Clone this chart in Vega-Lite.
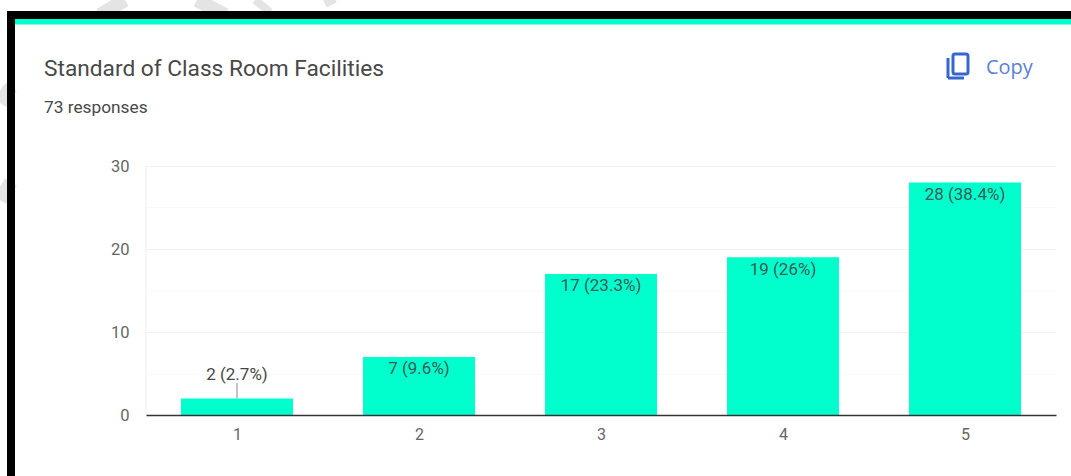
{
"$schema":"https://vega.github.io/schema/vega-lite/v6.json",
"width":910,"height":249,
"autosize":{"type":"none"},
"padding":{"left":146,"top":166,"right":15,"bottom":61},
"background":"#ffffff",
"view":{"stroke":null},
"title":{"text":"Standard of Class Room Facilities","subtitle":"73 responses","anchor":"start","frame":"group","dx":-102,"offset":-123,"font":"Roboto","fontSize":22.7,"fontWeight":"normal","color":"#484848","subtitleFont":"Roboto","subtitleFontSize":17.3,"subtitleColor":"#484848","subtitlePadding":18},
"datasets":{
"responses":[
{"option":1,"count":2,"label":"2 (2.7%)"},
{"option":2,"count":7,"label":"7 (9.6%)"},
{"option":3,"count":17,"label":"17 (23.3%)"},
{"option":4,"count":19,"label":"19 (26%)"},
{"option":5,"count":28,"label":"28 (38.4%)"}
]},
"layer":[
{"data":{"values":[
{"a":0.3846,"b":0.2473,"c":50,"d":48.19},
{"a":0.7802,"b":0.9341,"c":50,"d":48.19},
{"a":-0.3022,"b":-0.2418,"c":37.59,"d":39.52},
{"a":-0.3022,"b":-0.2418,"c":25.9,"d":28.07}
]},
"mark":{"type":"rule","color":"#e4e4e4","strokeWidth":14},
"encoding":{
"x":{"field":"a","type":"quantitative","title":null,"scale":{"domain":[0.5,5.5],"nice":false,"zero":false,"padding":0},"axis":{"values":[1,2,3,4,5],"grid":false,"ticks":false,"title":null,"domain":true,"domainColor":"#333333","domainWidth":1.5,"labelFont":"Roboto","labelFontSize":16,"labelColor":"#666666","labelPadding":11,"zindex":1,"labelAngle":0,"format":"d"}},
"x2":{"field":"b"},
"y":{"field":"c","type":"quantitative","title":null,"scale":{"domain":[0,30],"nice":false},"axis":{"values":[0,5,10,15,20,25,30],"labelExpr":"datum.value % 10 === 0 ? datum.label : ''","grid":true,"gridColor":{"condition":{"test":"datum.value % 10 === 0","value":"#f1f1f1"},"value":"#f8f8f8"},"ticks":false,"domain":false,"title":null,"labelFont":"Roboto","labelFontSize":16.5,"labelColor":"#666666","labelPadding":17}},
"y2":{"field":"d"}
}},
{"data":{"values":[{"a":1.0989,"b":1.1813,"c":50,"d":48.55},{"a":1.4835,"b":1.5385,"c":49.52,"d":50.12}]},
"mark":{"type":"rule","color":"#e4e4e4","strokeWidth":8},
"encoding":{"x":{"field":"a","type":"quantitative","title":null},"x2":{"field":"b"},"y":{"field":"c","type":"quantitative","title":null},"y2":{"field":"d"}}},
{"data":{"values":[
{"part":"frame","a":-0.2637,"b":5.6,"c":48.67,"d":47.71},
{"part":"frame","a":-0.2637,"b":-0.2198,"c":48.67,"d":-8},
{"part":"strip","a":-0.2198,"b":5.6,"c":47.71,"d":47.05}
]},
"mark":{"type":"rect"},
"encoding":{"x":{"field":"a","type":"quantitative","title":null},"x2":{"field":"b"},"y":{"field":"c","type":"quantitative","title":null},"y2":{"field":"d"},
"color":{"field":"part","type":"nominal","scale":{"domain":["frame","strip"],"range":["#000000","#00ffcc"]},"legend":null}}},
{"data":{"values":[{"a":0.5,"c":0,"d":30}]},
"mark":{"type":"rule","color":"#f3f3f3","strokeWidth":1.5},
"encoding":{"x":{"field":"a","type":"quantitative","title":null},"y":{"field":"c","type":"quantitative","title":null},"y2":{"field":"d"}}},
{"data":{"name":"responses"},
"mark":{"type":"bar","color":"#00ffcc","size":112},
"encoding":{"x":{"field":"option","type":"quantitative","title":null},"y":{"field":"count","type":"quantitative","title":null}}},
{"data":{"name":"responses"},
"transform":[{"filter":"datum.option > 1"}],
"mark":{"type":"text","font":"Roboto","fontSize":17,"color":"#3f5a56","dy":12.5},
"encoding":{"x":{"field":"option","type":"quantitative","title":null},"y":{"field":"count","type":"quantitative","title":null},"text":{"field":"label"}}},
{"data":{"values":[{"option":1,"y":3.9,"label":"2 (2.7%)"}]},
"mark":{"type":"text","font":"Roboto","fontSize":17,"color":"#484848","dy":-8},
"encoding":{"x":{"field":"option","type":"quantitative","title":null},"y":{"field":"y","type":"quantitative","title":null},"text":{"field":"label"}}},
{"data":{"values":[{"option":1,"a":2,"b":3.85}]},
"mark":{"type":"rule","color":"#888888"},
"encoding":{"x":{"field":"option","type":"quantitative","title":null},"y":{"field":"a","type":"quantitative","title":null},"y2":{"field":"b"}}},
{"data":{"values":[
{"a":4.9066,"b":4.9066,"c":43.01,"d":40.6},
{"a":4.9066,"b":4.9945,"c":40.6,"d":40.6}
]},
"mark":{"type":"rule","color":"#3567cf","strokeWidth":3},
"encoding":{"x":{"field":"a","type":"quantitative","title":null},"x2":{"field":"b"},"y":{"field":"c","type":"quantitative","title":null},"y2":{"field":"d"}}},
{"data":{"values":[{"a":4.934,"b":5.0165,"c":43.49,"d":41.08}]},
"mark":{"type":"rect","fill":null,"stroke":"#3567cf","strokeWidth":3,"cornerRadius":2},
"encoding":{"x":{"field":"a","type":"quantitative","title":null},"x2":{"field":"b"},"y":{"field":"c","type":"quantitative","title":null},"y2":{"field":"d"}}},
{"data":{"values":[{"a":5.115,"c":41.8,"label":"Copy"}]},
"mark":{"type":"text","font":"Open Sans","fontSize":20,"color":"#5b7fd6","align":"left"},
"encoding":{"x":{"field":"a","type":"quantitative","title":null},"y":{"field":"c","type":"quantitative","title":null},"text":{"field":"label"}}}
]
}
